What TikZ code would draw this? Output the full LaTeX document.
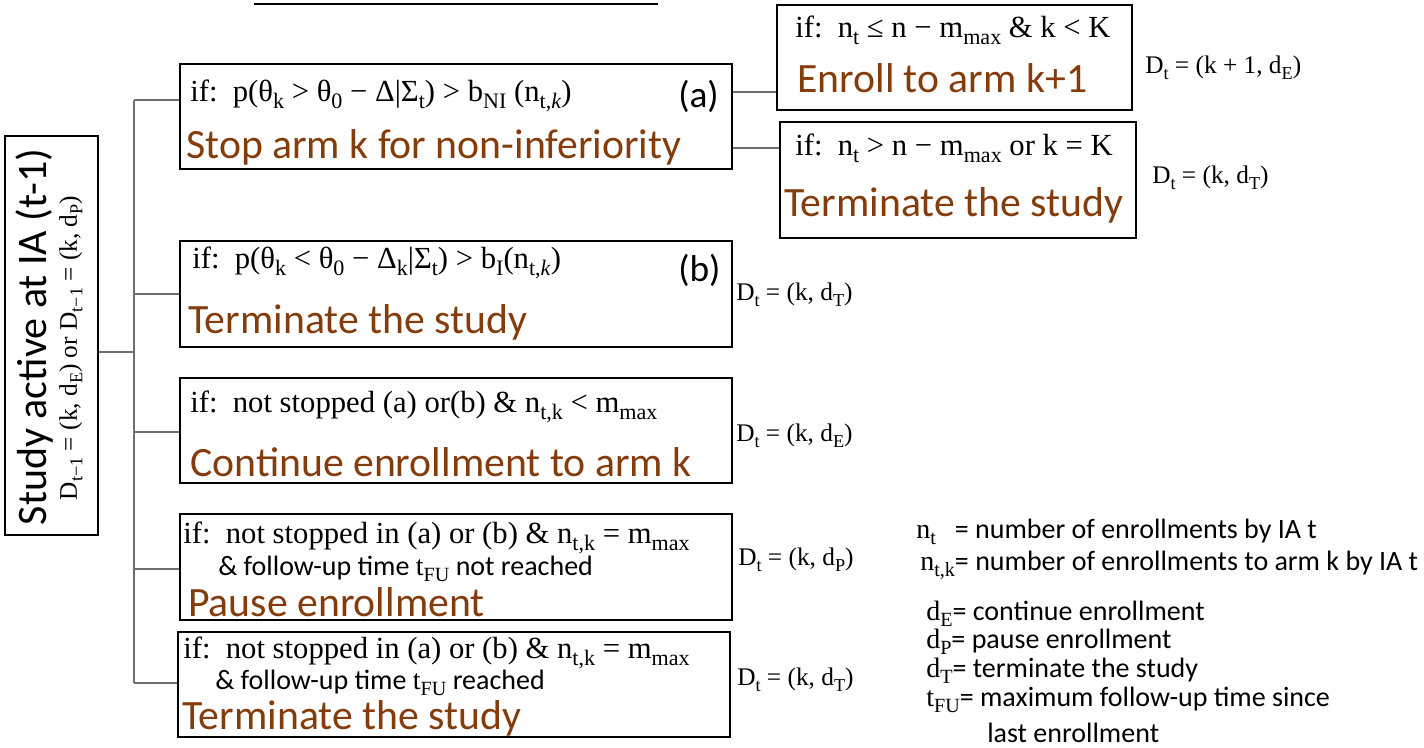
\documentclass[tikz,border=0pt]{standalone}
\usepackage{fontspec}
\usepackage{graphicx}
\setmainfont{Carlito}
\newfontfamily\mf{Liberation Serif}
\usetikzlibrary{fit}
\definecolor{brn}{RGB}{132,60,12}
\definecolor{lnc}{RGB}{110,110,110}
\newcommand\sub[1]{\raisebox{-0.22em}{\scalebox{0.72}{#1}}}
\tikzset{
  box/.style={draw=black, line width=1.5pt, inner sep=0pt},
  cond/.style={anchor=west, inner sep=0pt, font=\mf\fontsize{23}{26}\selectfont},
  cond2/.style={anchor=west, inner sep=0pt, font=\fontsize{21}{24}\selectfont},
  act/.style={anchor=west, inner sep=0pt, text=brn, font=\fontsize{31.3}{36}\selectfont},
  tag/.style={anchor=west, inner sep=0pt, font=\fontsize{28}{32}\selectfont},
  lbl/.style={anchor=west, inner sep=0pt, font=\mf\fontsize{19}{22}\selectfont},
  leg/.style={anchor=west, inner sep=0pt, font=\fontsize{21}{24}\selectfont},
  conn/.style={draw=lnc, line width=1.3pt}
}
\begin{document}
\begin{tikzpicture}[x=0.75pt,y=-0.75pt]
\useasboundingbox (0,0) rectangle (1424,747);
% cut-off title underline
\draw[line width=2.2pt] (254,4) coordinate (tl) -- (658,4) coordinate (tr);

% left box
\node[box, fit={(5,136) (98,535)}] (st) {};
\node[rotate=90, inner sep=0pt, font=\fontsize{31.5}{34}\selectfont] (st1) at (35,337) {Study active at IA (t-1)};
\node[rotate=90, inner sep=0pt, font=\mf\fontsize{19}{22}\selectfont] (st2) at (71,348) {D\sub{t−1} = (k, d\sub{E}) or D\sub{t−1} = (k, d\sub{P})};

% box a
\node[box, fit={(180,64) (732,169)}] (a) {};
\node[cond] (a1) at (190,96) {if:\ \ p(θ\sub{k} > θ\sub{0} − Δ|Σ\sub{t}) > b\sub{NI} (n\sub{t,\textit{k}})};
\node[tag] (a2) at (678,96) {(a)};
\node[act] (a3) at (186,147) {Stop arm k for non-inferiority};

% enroll box
\node[box, fit={(777,5) (1132,110)}] (en) {};
\node[cond] (en1) at (795,30) {if:\ \ n\sub{t} ≤ n − m\sub{max} \& k < K};
\node[act] (en2) at (797,78) {Enroll to arm k+1};
\node[lbl] (en3) at (1145,68) {D\sub{t} = (k + 1, d\sub{E})};

% terminate (a) box
\node[box, fit={(780,122) (1136,238)}] (ta) {};
\node[cond] (ta1) at (795,148) {if:\ \ n\sub{t} > n − m\sub{max} or k = K};
\node[act] (ta2) at (784,205) {Terminate the study};
\node[lbl] (ta3) at (1152,178) {D\sub{t} = (k, d\sub{T})};

\draw[conn] (a.east |- 0,92) -- (en.west |- 0,92);
\draw[conn] (a.east |- 0,148) -- (ta.west |- 0,148);

% box b
\node[box, fit={(180,241) (732,347)}] (b) {};
\node[cond] (b1) at (192,263) {if:\ \ p(θ\sub{k} < θ\sub{0} − Δ\sub{k}|Σ\sub{t}) > b\sub{I}(n\sub{t,\textit{k}})};
\node[tag] (b2) at (678,270) {(b)};
\node[act] (b3) at (188,322) {Terminate the study};
\node[lbl] (b4) at (736,295) {D\sub{t} = (k, d\sub{T})};

% box c
\node[box, fit={(180,378) (732,483)}] (c) {};
\node[cond] (c1) at (190,407) {if:\ \ not stopped (a) or(b) \& n\sub{t,k} < m\sub{max}};
\node[act] (c2) at (190,462) {Continue enrollment to arm k};
\node[lbl] (c3) at (736,436) {D\sub{t} = (k, d\sub{E})};

% box d
\node[box, fit={(180,514) (732,620)}] (d) {};
\node[cond] (d1) at (183,538) {if:\ \ not stopped in (a) or (b) \& n\sub{t,k} = m\sub{max}};
\node[cond2] (d2) at (218,569) {\& follow-up time {\mf t\sub{FU}} not reached};
\node[act] (d3) at (188,602) {Pause enrollment};
\node[lbl] (d4) at (738,560) {D\sub{t} = (k, d\sub{P})};

% box e
\node[box, fit={(178,632) (730,737)}] (e) {};
\node[cond] (e1) at (183,653) {if:\ \ not stopped in (a) or (b) \& n\sub{t,k} = m\sub{max}};
\node[cond2] (e2) at (215,683) {\& follow-up time {\mf t\sub{FU}} reached};
\node[act] (e3) at (182,718) {Terminate the study};
\node[lbl] (e4) at (737,680) {D\sub{t} = (k, d\sub{T})};

% trunk
\coordinate (jm) at (134,352);
\coordinate (ja) at (134,100);
\coordinate (jb) at (134,294);
\coordinate (jc) at (134,432);
\coordinate (jd) at (134,569);
\coordinate (je) at (134,683);
\draw[conn] (st.east |- jm) -- (jm);
\draw[conn] (ja) -- (je);
\draw[conn] (ja) -- (a.west |- ja);
\draw[conn] (jb) -- (b.west |- jb);
\draw[conn] (jc) -- (c.west |- jc);
\draw[conn] (jd) -- (d.west |- jd);
\draw[conn] (je) -- (e.west |- je);

% legend
\node[leg] (l1) at (916,532) {{\mf n\sub{t}}\ \ \ = number of enrollments by IA t};
\node[leg] (l2) at (920,565) {{\mf n\sub{t,k}}= number of enrollments to arm k by IA t};
\node[leg] (l3) at (926,614) {{\mf d\sub{E}}= continue enrollment};
\node[leg] (l4) at (926,642) {{\mf d\sub{P}}= pause enrollment};
\node[leg] (l5) at (926,671) {{\mf d\sub{T}}= terminate the study};
\node[leg] (l6) at (926,700) {{\mf t\sub{FU}}= maximum follow-up time since};
\node[leg] (l7) at (987,733) {last enrollment};
\end{tikzpicture}
\end{document}
